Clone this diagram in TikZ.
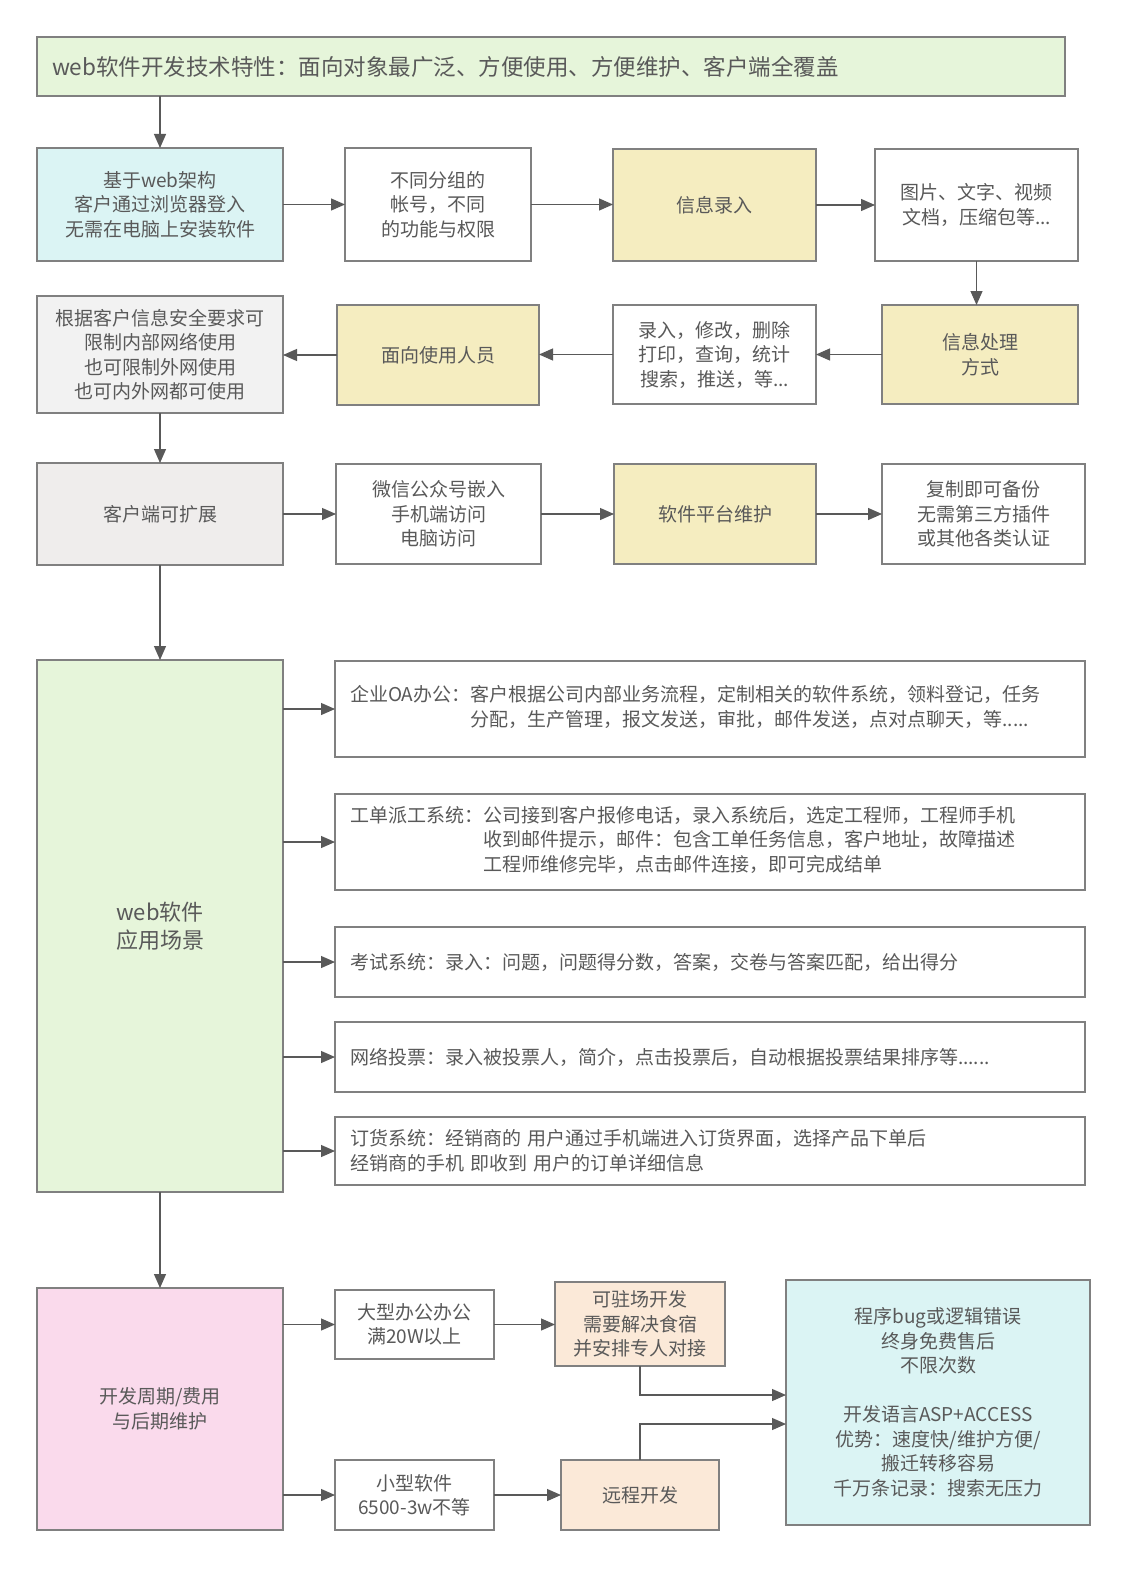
\documentclass[tikz,border=0pt]{standalone}
\usepackage{fontspec}
\setmainfont{Noto Sans CJK SC}
\usepackage{tikz}
\usetikzlibrary{arrows.meta}

\definecolor{greenfill}{RGB}{230,245,218}
\definecolor{cyanfill}{RGB}{219,244,244}
\definecolor{yellowfill}{RGB}{245,237,192}
\definecolor{lightgrayfill}{RGB}{242,242,242}
\definecolor{grayfill}{RGB}{239,237,236}
\definecolor{pinkfill}{RGB}{250,218,236}
\definecolor{peachfill}{RGB}{251,233,216}
\definecolor{linegray}{RGB}{128,128,128}
\definecolor{textgray}{RGB}{89,89,89}

\begin{document}
\begin{tikzpicture}[x=1pt, y=-1pt,
        box/.style={shape=rectangle, draw=linegray, line width=1.3pt, inner sep=0pt, outer sep=0pt,
            align=center, text=textgray, font=\fontsize{19}{24.5}\selectfont},
        wide/.style={box, minimum width=750pt, text width=720pt, align=left},
        arr/.style={draw=textgray, line width=1.2pt, -{Triangle[length=14pt,width=12pt]}}]
        \useasboundingbox (0,0) rectangle (1128,1570);
        \fill[white] (0,0) rectangle (1128,1570);

        % first rows
        \node[box, fill=greenfill, minimum width=1028pt, minimum height=59pt, text width=998pt, align=left,
            font=\fontsize{22.5}{27}\selectfont] (top) at (551, 66.5) {web软件开发技术特性：面向对象最广泛、方便使用、方便维护、客户端全覆盖};
        \node[box, fill=cyanfill, minimum width=246pt, minimum height=113pt] (web) at (160, 204.5) {基于web架构\\客户通过浏览器登入\\无需在电脑上安装软件};
        \node[box, minimum width=186pt, minimum height=113pt] (acct) at (438, 204.5) {不同分组的\\帐号，不同\\的功能与权限};
        \node[box, fill=yellowfill, minimum width=203pt, minimum height=112pt] (input) at (714.5, 205) {信息录入};
        \node[box, minimum width=203pt, minimum height=112pt] (media) at (976.5, 205) {图片、文字、视频\\文档，压缩包等...};
        \node[box, fill=yellowfill, minimum width=196pt, minimum height=99pt] (proc) at (980, 354.5) {信息处理\\方式};
        \node[box, minimum width=203pt, minimum height=99pt] (ops) at (714.5, 354.5) {录入，修改，删除\\打印，查询，统计\\搜索，推送，等...};
        \node[box, fill=yellowfill, minimum width=202pt, minimum height=100pt] (users) at (438, 355) {面向使用人员};
        \node[box, fill=lightgrayfill, minimum width=246pt, minimum height=117pt] (net) at (160, 354.5) {根据客户信息安全要求可\\限制内部网络使用\\也可限制外网使用\\也可内外网都可使用};
        \node[box, fill=grayfill, minimum width=246pt, minimum height=102pt] (client) at (160, 514) {客户端可扩展};
        \node[box, minimum width=205pt, minimum height=100pt] (wechat) at (438.5, 514) {微信公众号嵌入\\手机端访问\\电脑访问};
        \node[box, fill=yellowfill, minimum width=202pt, minimum height=100pt] (maint) at (715, 514) {软件平台维护};
        \node[box, minimum width=203pt, minimum height=100pt] (backup) at (983.5, 514) {复制即可备份\\无需第三方插件\\或其他各类认证};

        % scenes
        \node[box, fill=greenfill, minimum width=246pt, minimum height=532pt, font=\fontsize{22}{28}\selectfont] (scene) at (160, 926) {web软件\\应用场景};
        \node[wide, minimum height=96pt] (oa) at (710, 709) {\begin{tabular}{@{}l@{}l@{}}企业OA办公：&客户根据公司内部业务流程，定制相关的软件系统，领料登记，任务\\ &分配，生产管理，报文发送，审批，邮件发送，点对点聊天，等.....\end{tabular}};
        \node[wide, minimum height=96pt] (ticket) at (710, 842) {\begin{tabular}{@{}l@{}l@{}}工单派工系统：&公司接到客户报修电话，录入系统后，选定工程师，工程师手机\\ &收到邮件提示，邮件：包含工单任务信息，客户地址，故障描述\\ &工程师维修完毕，点击邮件连接，即可完成结单\end{tabular}};
        \node[wide, minimum height=70pt] (exam) at (710, 962) {考试系统：录入：问题，问题得分数，答案，交卷与答案匹配，给出得分};
        \node[wide, minimum height=70pt] (vote) at (710, 1057) {网络投票：录入被投票人，简介，点击投票后，自动根据投票结果排序等......};
        \node[wide, minimum height=68pt] (shop) at (710, 1151) {订货系统：经销商的 用户通过手机端进入订货界面，选择产品下单后\\经销商的手机 即收到 用户的订单详细信息};

        % cost
        \node[box, fill=pinkfill, minimum width=246pt, minimum height=242pt] (cost) at (160, 1409) {开发周期/费用\\与后期维护};
        \node[box, minimum width=159pt, minimum height=69pt] (large) at (414.5, 1324.5) {大型办公办公\\满20W以上};
        \node[box, fill=peachfill, minimum width=170pt, minimum height=84pt] (onsite) at (640, 1324) {可驻场开发\\需要解决食宿\\并安排专人对接};
        \node[box, minimum width=159pt, minimum height=70pt] (small) at (414.5, 1495) {小型软件\\6500-3w不等};
        \node[box, fill=peachfill, minimum width=158pt, minimum height=70pt] (remote) at (640, 1495) {远程开发};
        \node[box, fill=cyanfill, minimum width=304pt, minimum height=245pt] (after) at (938, 1402.5) {程序bug或逻辑错误\\终身免费售后\\不限次数\\[24.5pt]开发语言ASP+ACCESS\\优势：速度快/维护方便/\\搬迁转移容易\\千万条记录：搜索无压力};
        \coordinate (in1) at (786, 1395);
        \coordinate (in2) at (786, 1424);

        % connectors
        \draw[arr] (top.south -| web.north) -- (web.north);
        \draw[arr] (web.east) -- (acct.west |- web.east);
        \draw[arr] (acct.east) -- (input.west |- acct.east);
        \draw[arr] (input.east) -- (media.west |- input.east);
        \draw[arr] (media.south) -- (media.south |- proc.north);
        \draw[arr] (proc.west) -- (ops.east |- proc.west);
        \draw[arr] (ops.west) -- (users.east |- ops.west);
        \draw[arr] (users.west) -- (net.east |- users.west);
        \draw[arr] (net.south) -- (client.north);
        \draw[arr] (client.east) -- (wechat.west |- client.east);
        \draw[arr] (wechat.east) -- (maint.west |- wechat.east);
        \draw[arr] (maint.east) -- (backup.west |- maint.east);
        \draw[arr] (client.south) -- (scene.north);
        \foreach \s in {oa, ticket, exam, vote, shop}
            \draw[arr] (scene.east |- \s.west) -- (\s.west);
        \draw[arr] (scene.south) -- (cost.north);
        \draw[arr] (cost.east |- large.west) -- (large.west);
        \draw[arr] (cost.east |- small.west) -- (small.west);
        \draw[arr] (large.east) -- (onsite.west |- large.east);
        \draw[arr] (small.east) -- (remote.west |- small.east);
        \draw[arr] (onsite.south) |- (in1);
        \draw[arr] (remote.north) |- (in2);
    \end{tikzpicture}
\end{document}
